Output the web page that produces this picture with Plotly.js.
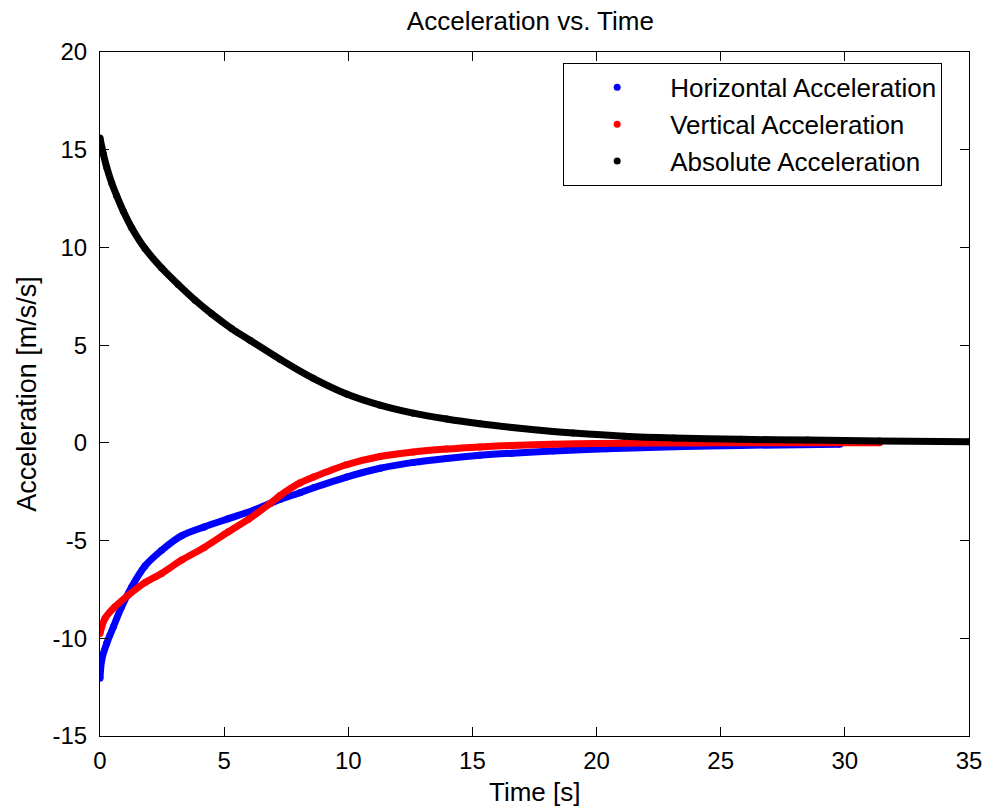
<!DOCTYPE html>
<html>
<head>
<meta charset="utf-8">
<script src="https://cdn.plot.ly/plotly-3.0.1.min.js"></script>
<style>html,body{margin:0;padding:0;background:#fff;}#chart{width:984px;height:808px;}</style>
</head>
<body>
<div id="chart"></div>
<script>
// Horizontal acceleration (blue)
const tHorizontal = [0, 0.07, 0.27, 0.54, 0.87, 1.28, 1.81, 2.48, 3.29, 4.2, 5.17, 6.24, 6.85, 7.25, 8.05, 8.6, 9.93, 11.28, 12.62, 13.96, 15.3, 16.6, 18.25, 20.4, 23.1, 25.8, 29.8];
const aHorizontal = [-12.05, -11.1, -10.26, -9.41, -8.39, -7.36, -6.3, -5.5, -4.75, -4.3, -3.88, -3.42, -3.1, -2.9, -2.55, -2.3, -1.75, -1.3, -1.0, -0.8, -0.64, -0.53, -0.42, -0.3, -0.2, -0.13, -0.07];
// Vertical acceleration (red)
const tVertical = [0, 0.2, 0.6, 1.14, 1.81, 2.48, 3.29, 4.2, 5.17, 5.97, 6.85, 7.25, 8.05, 8.6, 9.93, 11.28, 12.62, 13.96, 15.3, 16.6, 18.25, 20, 22, 25, 28, 31.4];
const aVertical = [-9.75, -8.98, -8.39, -7.79, -7.15, -6.68, -6.0, -5.35, -4.55, -3.92, -3.1, -2.7, -2.05, -1.75, -1.12, -0.7, -0.47, -0.32, -0.21, -0.13, -0.07, -0.03, -0.01, 0, 0, 0];
// Absolute acceleration (black)
const tAbsolute = [0, 0.07, 0.13, 0.27, 0.47, 0.67, 0.94, 1.28, 1.81, 2.48, 3.15, 3.83, 4.5, 5.3, 6.04, 7.25, 8.59, 9.93, 11.28, 12.62, 13.96, 15.3, 16.6, 18.25, 19.05, 21.1, 23.1, 25.8, 28.5, 31.4, 35];
const aAbsolute = [15.6, 15.15, 14.8, 14.1, 13.3, 12.65, 11.85, 11.0, 9.95, 8.95, 8.1, 7.3, 6.6, 5.85, 5.25, 4.28, 3.3, 2.5, 1.93, 1.52, 1.22, 0.98, 0.79, 0.58, 0.5, 0.34, 0.25, 0.18, 0.14, 0.1, 0.06];

const seriesNames = ["Horizontal Acceleration", "Vertical Acceleration", "Absolute Acceleration"];
const seriesColors = ["#0000ff", "#ff0000", "#000000"];

const xTickVals = [0, 5, 10, 15, 20, 25, 30, 35];
const xTickText = ["0", "5", "10", "15", "20", "25", "30", "35"];
const yTickVals = [-15, -10, -5, 0, 5, 10, 15, 20];
const yTickText = ["-15", "-10", "-5", "0", "5", "10", "15", "20"];

const xs = [tHorizontal, tVertical, tAbsolute];
const ys = [aHorizontal, aVertical, aAbsolute];

const FONT = "Liberation Sans, Arial, sans-serif";
const traces = [];
for (let i = 0; i < 3; i++) {
  traces.push({
    x: xs[i], y: ys[i], type: "scatter", mode: "lines",
    line: {color: seriesColors[i], width: 7, shape: "spline", smoothing: 0.8},
    showlegend: false, hoverinfo: "skip"
  });
  traces.push({
    x: xs[i], y: ys[i], type: "scatter", mode: "markers",
    name: seriesNames[i],
    marker: {color: seriesColors[i], size: 7}
  });
}

const axisCommon = {
  showgrid: false, zeroline: false, showline: true, linecolor: "#000", linewidth: 1,
  mirror: "ticks", ticks: "inside", ticklen: 9, tickcolor: "#000", tickwidth: 1,
  tickfont: {family: FONT, size: 24, color: "#000"}, tickmode: "array"
};

const layout = {
  width: 984, height: 808, autosize: false,
  paper_bgcolor: "#fff", plot_bgcolor: "#fff",
  margin: {l: 100, r: 15, t: 52, b: 72},
  font: {family: FONT, color: "#000"},
  title: {text: "Acceleration vs. Time", font: {family: FONT, size: 26, color: "#000"},
          xref: "container", x: 0.539, xanchor: "center", yref: "container", y: 1 - 21/808, yanchor: "middle"},
  xaxis: Object.assign({}, axisCommon, {
    range: [0, 35], tickvals: xTickVals, ticktext: xTickText, ticklabelstandoff: 3
  }),
  yaxis: Object.assign({}, axisCommon, {
    range: [-15, 20], tickvals: yTickVals, ticktext: yTickText, ticklabelstandoff: 7,
    title: {text: "Acceleration [m/s/s]", font: {family: FONT, size: 27, color: "#000"}, standoff: 8}
  }),
  annotations: [{
    text: "Time [s]", xref: "paper", yref: "paper", x: 0.5, y: -(792 - 736) / 684,
    xanchor: "center", yanchor: "middle", showarrow: false,
    font: {family: FONT, size: 26, color: "#000"}
  }],
  legend: {
    x: 0.533, y: 0.984, xanchor: "left", yanchor: "top",
    bgcolor: "#fff", bordercolor: "#000", borderwidth: 1,
    font: {family: FONT, size: 26, color: "#000"},
    itemwidth: 96, tracegroupgap: 0
  },
  showlegend: true
};

Plotly.newPlot("chart", traces, layout, {displayModeBar: false, staticPlot: true});
</script>
</body>
</html>
